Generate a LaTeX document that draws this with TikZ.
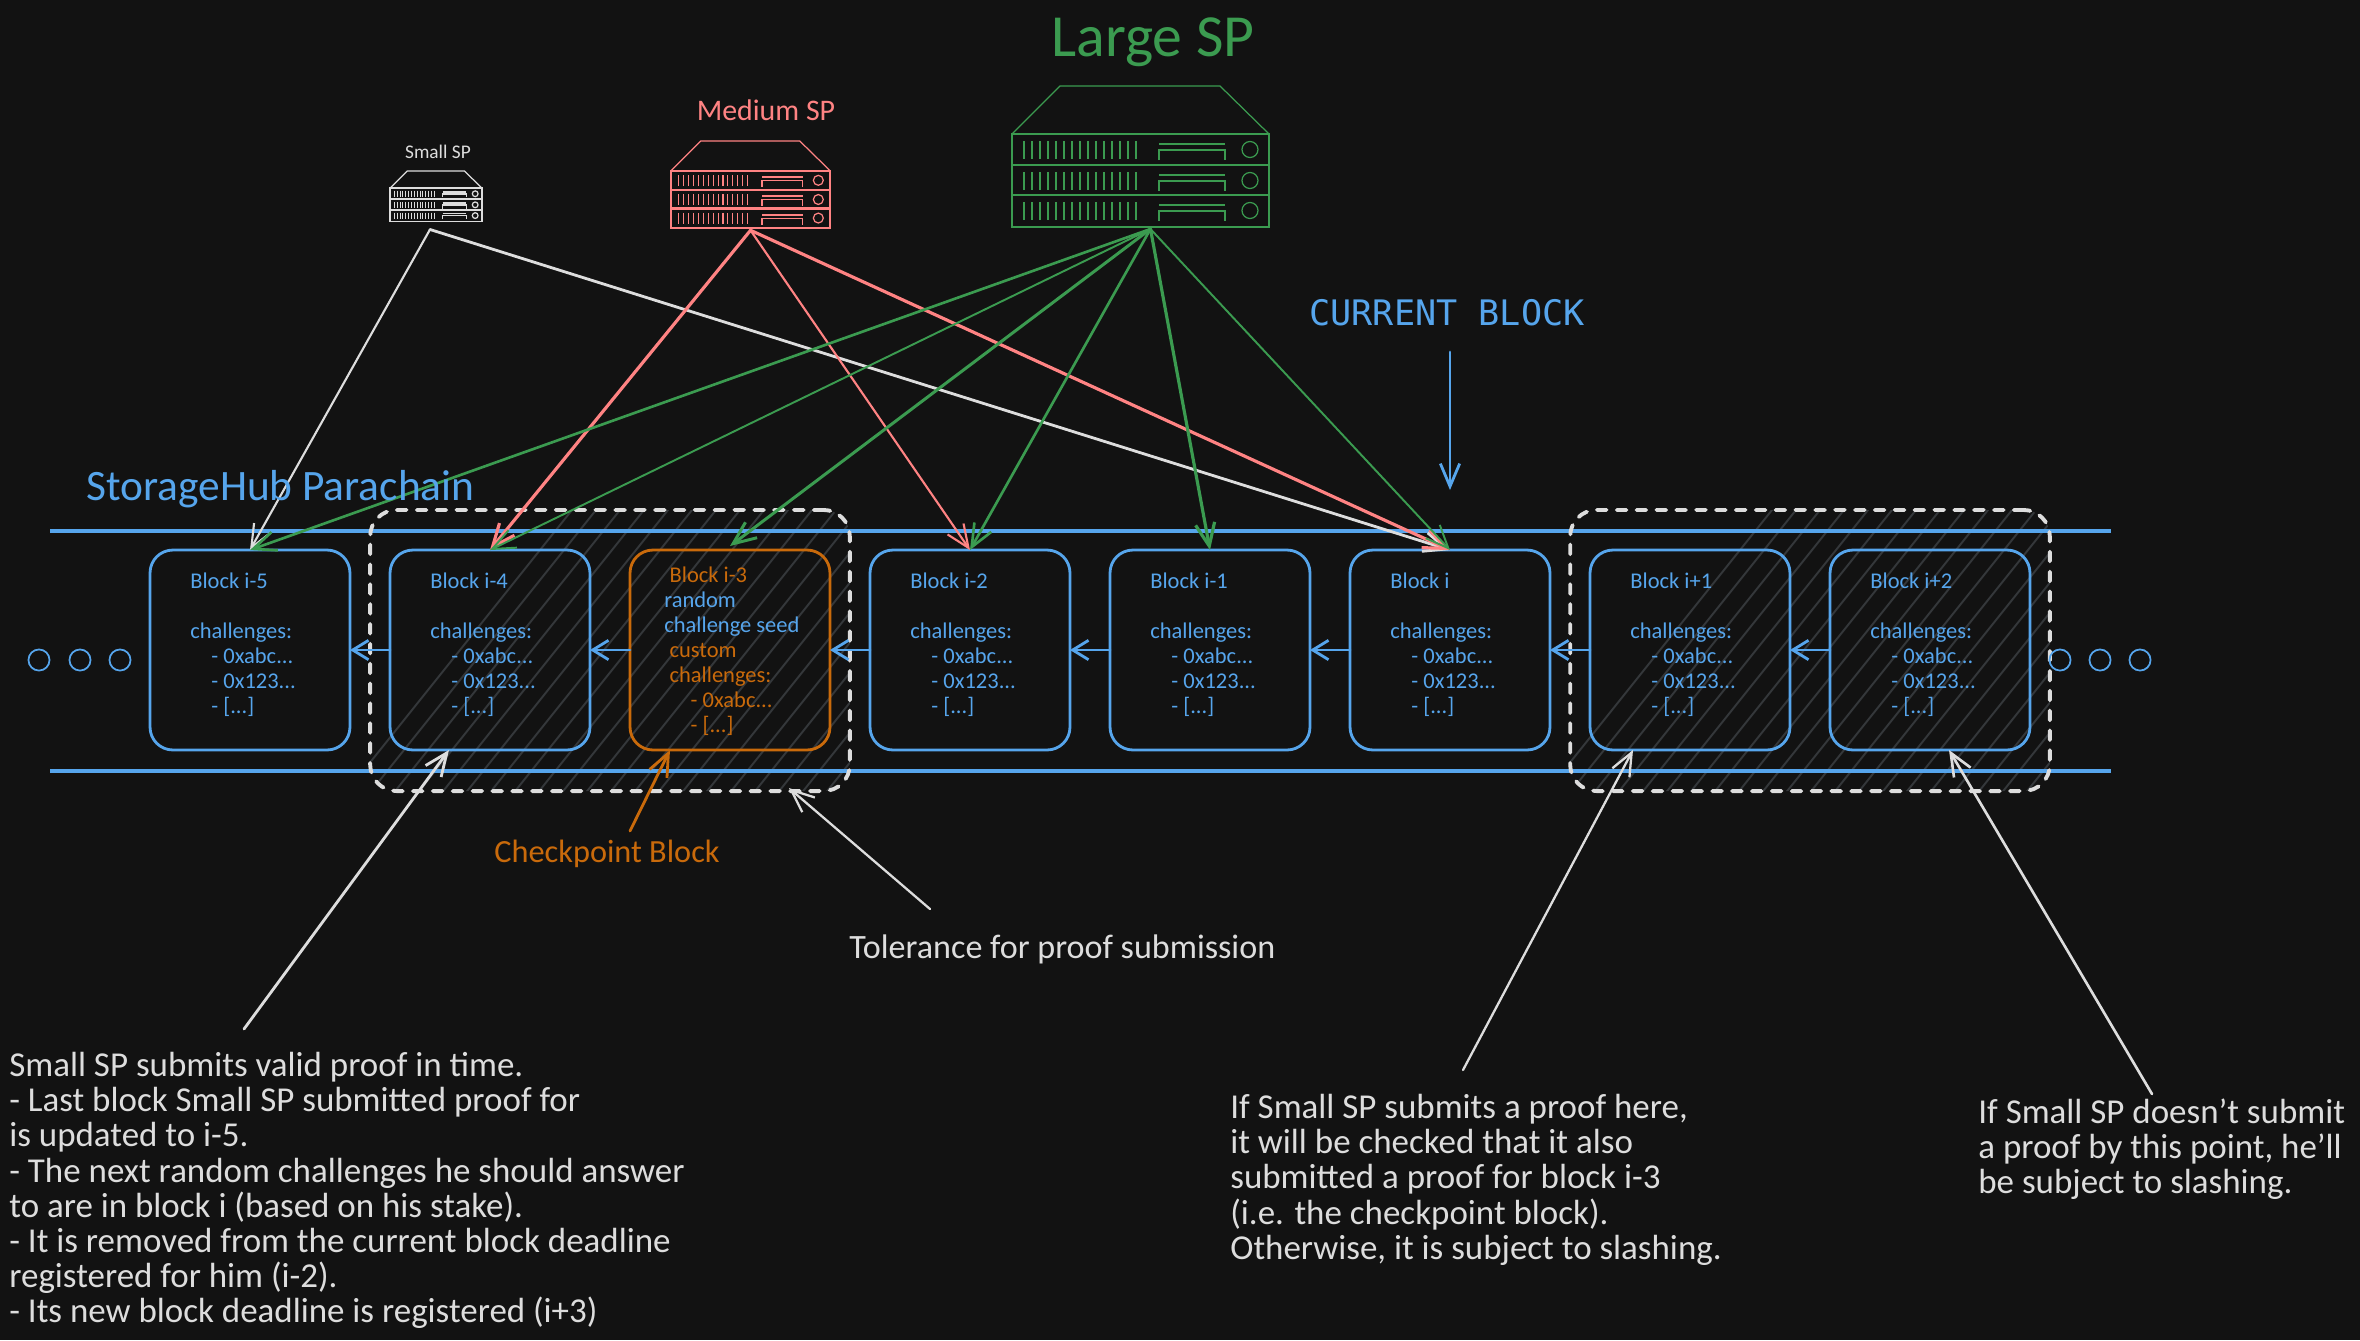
\documentclass[tikz,border=0pt]{standalone}
\usepackage{fontspec}
\setmainfont{Carlito}
\newfontfamily\codefont{DejaVu Sans Mono}
\usetikzlibrary{arrows.meta,calc}
\definecolor{bgcol}{HTML}{121212}
\definecolor{bluecol}{HTML}{56A5EC}
\definecolor{greencol}{HTML}{3B9B50}
\definecolor{redcol}{HTML}{FF8383}
\definecolor{whitecol}{HTML}{DDDDDD}
\definecolor{orangecol}{HTML}{C96A0B}
\definecolor{hatchcol}{HTML}{34373A}
\newcommand{\server}[6]{% name, x, y, scale, colour, rows bold
  \node[draw=#5,line width=0.9pt,minimum width=#4*257*0.569pt,minimum height=#4*93*0.569pt,inner sep=0pt,outer sep=0pt,anchor=south west] (#1) at (#2,#3+#4*141) {};
  \begin{scope}[shift={(#2,#3)},x=#4*0.02cm,y=-#4*0.02cm,draw=#5,line width=0.7pt]
    \draw (0,48) -- (48,0) -- (208,0) -- (257,48);
    \draw[line width=#6] (0,79) -- (257,79) (0,109) -- (257,109);
    \foreach \r in {48,79,109}{
      \foreach \t in {12,20,...,124}{\draw[line width=0.6pt] (\t,\r+7) -- (\t,\r+25);}
      \draw[line width=1pt] (147,\r+10) -- (213,\r+10);
      \draw (147,\r+26) -- (147,\r+16) -- (213,\r+16) -- (213,\r+26);
      \draw (238,\r+15.5) circle[x radius=8,y radius=8];
    }
  \end{scope}}
\tikzset{
  x=0.02cm,y=-0.02cm,
  railline/.style={bluecol,line width=2pt},
  blockbox/.style={draw=bluecol,line width=1.6pt,rounded corners=13pt,minimum width=113.8pt,minimum height=113.8pt,inner sep=0pt,outer sep=0pt},
  blocktext/.style={bluecol,anchor=north west,align=left,inner sep=0pt,font=\fontsize{12.8}{14.2}\selectfont},
  dashbox/.style={draw=whitecol,line width=2.2pt,dash pattern=on 5.5pt off 5.8pt,line cap=round,rounded corners=15pt},
  hatchline/.style={hatchcol,line width=1.1pt},
  barbtip/.style={-{Straight Barb[length=13pt,width=11pt]},line cap=round},
  smallbarb/.style={-{Straight Barb[length=9pt,width=11pt]},line cap=round},
  noteS/.style={whitecol,anchor=north west,align=left,inner sep=0pt,font=\fontsize{19.9}{20}\selectfont},
  dotcircle/.style={draw=bluecol,line width=1pt,circle,minimum size=12pt,inner sep=0pt},
}
\begin{document}
\begin{tikzpicture}
\useasboundingbox[fill=bgcol] (0,0) rectangle (2360,1340);
% hatched regions
\begin{scope}
  \clip[rounded corners=15pt] (370,510) rectangle (850,791);
  \foreach \k in {0,...,30}{\draw[hatchline] (340+\k*24,800) -- (340+\k*24+240,500);}
\end{scope}
\begin{scope}
  \clip[rounded corners=15pt] (1570,510) rectangle (2050,791);
  \foreach \k in {0,...,30}{\draw[hatchline] (1540+\k*24,800) -- (1540+\k*24+240,500);}
\end{scope}
% rails
\coordinate (railaw) at (50,531);
\coordinate (railae) at (2111,531);
\coordinate (railbw) at (50,771);
\coordinate (railbe) at (2111,771);
\draw[railline] (railaw) -- (railae);
\draw[railline] (railbw) -- (railbe);
% tolerance boxes
\node[dashbox,minimum width=273pt,minimum height=160pt,inner sep=0pt,outer sep=0pt] (tolA) at (610,650.5) {};
\node[dashbox,minimum width=273pt,minimum height=160pt,inner sep=0pt,outer sep=0pt] (tolB) at (1810,650.5) {};
% blocks
\node[blockbox] (b5) at (250,650) {};
\node[blockbox] (b4) at (490,650) {};
\node[blockbox,draw=orangecol] (b3) at (730,650) {};
\node[blockbox] (b2) at (970,650) {};
\node[blockbox] (b1) at (1210,650) {};
\node[blockbox] (b0) at (1450,650) {};
\node[blockbox] (bp1) at (1690,650) {};
\node[blockbox] (bp2) at (1930,650) {};
\newcommand{\blockbody}[1]{Block #1\\[0pt]\mbox{}\\[0pt]challenges:\\[0pt]\hspace*{12pt}- 0xabc...\\[0pt]\hspace*{12pt}- 0x123...\\[0pt]\hspace*{12pt}- [...]}
\node[blocktext] (t5) at (190,573) {\blockbody{i-5}};
\node[blocktext] (t4) at (430,573) {\blockbody{i-4}};
\node[blocktext] (t2) at (910,573) {\blockbody{i-2}};
\node[blocktext] (t1) at (1150,573) {\blockbody{i-1}};
\node[blocktext] (t0) at (1390,573) {\blockbody{i}};
\node[blocktext] (tp1) at (1630,573) {\blockbody{i+1}};
\node[blocktext] (tp2) at (1870,573) {\blockbody{i+2}};
\node[blocktext] (t3) at (664,567) {\textcolor{orangecol}{\hspace*{3pt}Block i-3}\\random\\challenge seed\\\textcolor{orangecol}{\hspace*{3pt}custom}\\\textcolor{orangecol}{\hspace*{3pt}challenges:}\\\textcolor{orangecol}{\hspace*{15pt}- 0xabc...}\\\textcolor{orangecol}{\hspace*{15pt}- [...]}};
% chain arrows
\foreach \a/\b in {b4/b5,b3/b4,b2/b3,b1/b2,b0/b1,bp1/b0,bp2/bp1}{\draw[smallbarb,bluecol,line width=1.6pt] (\a) ++(-100,0) -- ($(\b)+(100,0)$);}
% dots
\foreach \n/\x in {dl1/39,dl2/80,dl3/120,dr1/2060,dr2/2100,dr3/2140}{\node[dotcircle] (\n) at (\x,660) {};}
% servers
\server{smallsp}{390}{171}{0.358}{whitecol}{1pt}
\server{mediumsp}{671}{141}{0.619}{redcol}{1.2pt}
\server{largesp}{1012}{86}{1}{greencol}{1.5pt}
\node[whitecol,font=\fontsize{11}{13}\selectfont] (smalllabel) at (438,152) {Small SP};
\node[redcol,font=\fontsize{17}{20}\selectfont] (mediumlabel) at (766,110) {Medium SP};
\node[greencol,font=\fontsize{34}{40}\selectfont] (largelabel) at (1153,42) {Large SP};
% connectors
\coordinate (sout) at ($(smallsp.south)+(-6,8)$);
\coordinate (mout) at ($(mediumsp.south)+(0,2)$);
\coordinate (lout) at ($(largesp.south)+(10,2)$);
\draw[barbtip,whitecol,line width=1.2pt] (sout) -- (b5.north);
\draw[barbtip,whitecol,line width=1.6pt] (sout) -- (b0.north);
\draw[barbtip,redcol,line width=1.8pt] (mout) -- (b4.north);
\draw[barbtip,redcol,line width=1.2pt] (mout) -- (b2.north);
\draw[barbtip,redcol,line width=1.8pt] (mout) -- (b0.north);
\draw[barbtip,greencol,line width=1.5pt] (lout) -- (b5.north);
\draw[barbtip,greencol,line width=1.1pt] (lout) -- (b4.north);
\draw[barbtip,greencol,line width=1.7pt] (lout) -- ($(b3.north)+(0,-4)$);
\draw[barbtip,greencol,line width=1.5pt] (lout) -- (b2.north);
\draw[barbtip,greencol,line width=1.8pt] (lout) -- (b1.north);
\draw[barbtip,greencol,line width=1.1pt] (lout) -- (b0.north);
% current block
\node[bluecol,font=\fontsize{20}{24}\selectfont\codefont] (current) at (1447,313) {CURRENT BLOCK};
\coordinate (curtail) at (1450,352);
\coordinate (curtip) at (1450,490);
\draw[barbtip,bluecol,line width=1.6pt] (curtail) -- (curtip);
% chain title
\node[bluecol,font=\fontsize{24.7}{28}\selectfont,anchor=west,inner sep=0pt] (chain) at (86,489) {StorageHub Parachain};
% checkpoint
\node[orangecol,font=\fontsize{18.4}{20}\selectfont,anchor=west,inner sep=0pt] (checkpoint) at (494,854) {Checkpoint Block};
\coordinate (cptail) at (630,831);
\draw[barbtip,orangecol,line width=1.6pt] (cptail) -- ($(b3.south)+(-60,0)$);
% tolerance
\node[whitecol,font=\fontsize{19.4}{20}\selectfont,anchor=west,inner sep=0pt] (tollabel) at (849,949) {Tolerance for proof submission};
\coordinate (toltail) at (930,909);
\draw[barbtip,whitecol,line width=1.3pt] (toltail) -- ($(tolA.south)+(179,-3)$);
% notes
\node[noteS] (noteA) at (9,1052) {Small SP submits valid proof in time.\\- Last block Small SP submitted proof for\\is updated to i-5.\\- The next random challenges he should answer\\to are in block i (based on his stake).\\- It is removed from the current block deadline\\registered for him (i-2).\\- Its new block deadline is registered (i+3)};
\node[noteS] (noteB) at (1230,1094) {If Small SP submits a proof here,\\it will be checked that it also\\submitted a proof for block i-3\\(i.e. the checkpoint block).\\Otherwise, it is subject to slashing.};
\node[noteS] (noteC) at (1978,1098) {If Small SP doesn't submit\\a proof by this point, he'll\\be subject to slashing.};
\coordinate (atail) at (244,1029);
\coordinate (btail) at (1463,1070);
\coordinate (ctail) at (2152,1094);
\draw[barbtip,whitecol,line width=1.6pt] (atail) -- ($(b4.south)+(-41,0)$);
\draw[barbtip,whitecol,line width=1.3pt] (btail) -- ($(bp1.south)+(-57,0)$);
\draw[barbtip,whitecol,line width=1.5pt] (ctail) -- ($(bp2.south)+(19,0)$);
\end{tikzpicture}
\end{document}
